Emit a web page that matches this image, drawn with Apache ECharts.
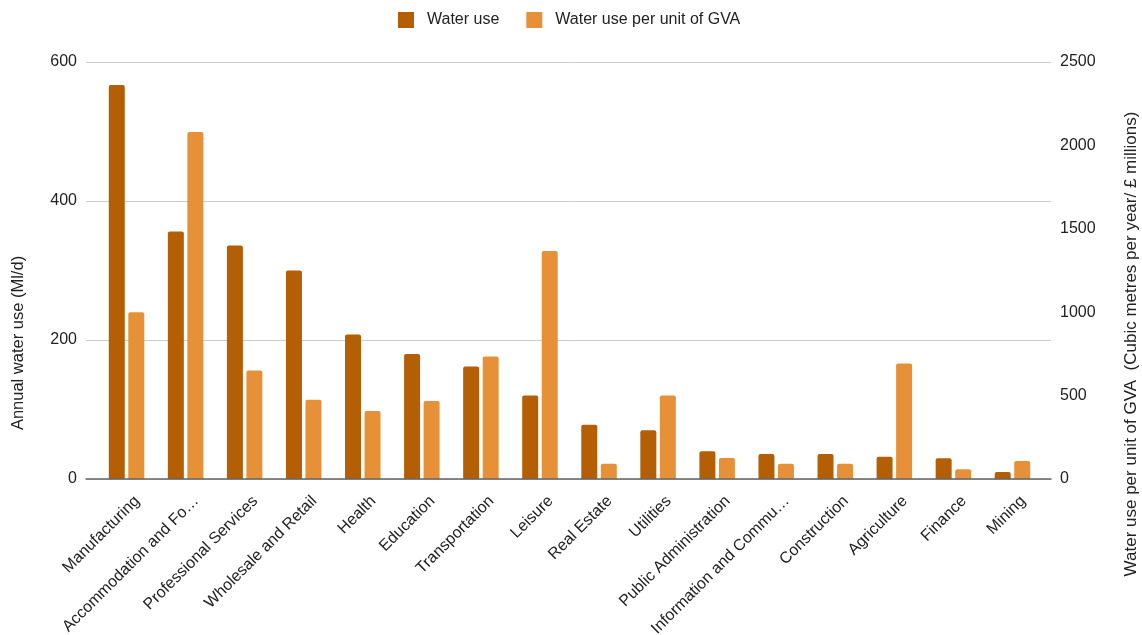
<!DOCTYPE html>
<html>
<head>
<meta charset="utf-8">
<script src="https://cdn.jsdelivr.net/npm/echarts@6/dist/echarts.min.js"></script>
<style>
  html, body { margin: 0; padding: 0; background: #fff; }
  #chart { width: 1142px; height: 635px; }
</style>
</head>
<body>
<div id="chart"></div>
<script>
// Sectors, in the order they are plotted
const categories = [
  'Manufacturing', 'Accommodation and Fo\u2026', 'Professional Services', 'Wholesale and Retail',
  'Health', 'Education', 'Transportation', 'Leisure', 'Real Estate', 'Utilities',
  'Public Administration', 'Information and Commu\u2026', 'Construction', 'Agriculture',
  'Finance', 'Mining'
];

// Annual water use (Ml/d) — left axis
const waterUse = [567, 356, 336, 300, 208, 180, 162, 120, 78, 70, 40, 36, 36, 32, 30, 10];

// Water use per unit of GVA (m³ per year / £ millions) — right axis
const waterPerGva = [1000, 2080, 650, 475, 407, 467, 734, 1367, 92, 500, 126, 92, 92, 692, 58, 108];

// Axis ranges
const leftAxis = { min: 0, max: 600, interval: 200 };
const rightAxis = { min: 0, max: 2500, interval: 500 };

const FONT = 'Arial, "Liberation Sans", sans-serif';
const TEXT = '#222';

const chart = echarts.init(document.getElementById('chart'), null, { renderer: 'canvas' });

chart.setOption({
  animation: false,
  textStyle: { fontFamily: FONT },
  legend: {
    top: 12,
    left: 398,
    padding: 0,
    itemWidth: 16,
    itemHeight: 16,
    itemGap: 27,
    icon: 'rect',
    itemStyle: { borderRadius: 2 },
    textStyle: { fontSize: 16, color: TEXT, fontFamily: FONT, padding: [0, 0, 0, 8] },
    data: ['Water use', 'Water use per unit of GVA']
  },
  grid: [
    // outer frame: gridlines and baseline
    { left: 86, right: 91, top: 62, bottom: 156, outerBoundsMode: 'none', containLabel: false },
    // inner band area holding the bars
    { left: 97, right: 100, top: 62, bottom: 156, outerBoundsMode: 'none', containLabel: false }
  ],
  xAxis: [
    {
      gridIndex: 0,
      type: 'category',
      data: categories,
      axisTick: { show: false },
      axisLabel: { show: false },
      axisLine: { show: true, lineStyle: { color: '#666', width: 1.5 } },
      z: 5
    },
    {
      gridIndex: 1,
      type: 'category',
      data: categories,
      axisTick: { show: false },
      axisLine: { show: false },
      axisLabel: {
        interval: 0,
        rotate: 45,
        align: 'right',
        verticalAlign: 'top',
        lineHeight: 30,
        margin: 9,
        fontSize: 16,
        color: TEXT,
        fontFamily: FONT
      }
    }
  ],
  yAxis: [
    {
      gridIndex: 0,
      type: 'value',
      min: leftAxis.min, max: leftAxis.max, interval: leftAxis.interval,
      axisLine: { show: false },
      axisTick: { show: false },
      splitLine: { show: true, lineStyle: { color: '#ccc', width: 1 } },
      axisLabel: { margin: 9, fontSize: 16, color: TEXT, fontFamily: FONT }
    },
    {
      gridIndex: 1,
      type: 'value',
      show: false,
      min: leftAxis.min, max: leftAxis.max, interval: leftAxis.interval,
      splitLine: { show: false }
    },
    {
      gridIndex: 1,
      type: 'value',
      position: 'right',
      min: rightAxis.min, max: rightAxis.max, interval: rightAxis.interval,
      axisLine: { show: false },
      axisTick: { show: false },
      splitLine: { show: false },
      axisLabel: {
        margin: 18, fontSize: 16, color: TEXT, fontFamily: FONT, align: 'left',
        formatter: (v) => String(v)
      }
    }
  ],
  graphic: [
    {
      type: 'text',
      x: 18, y: 343,
      rotation: Math.PI / 2,
      style: {
        text: 'Annual water use (Ml/d)',
        font: '16.5px ' + FONT,
        fill: TEXT,
        align: 'center',
        verticalAlign: 'middle'
      }
    },
    {
      type: 'text',
      x: 1131, y: 344,
      rotation: Math.PI / 2,
      style: {
        text: 'Water use per unit of GVA  (Cubic metres per year/ \u00a3 millions)',
        font: '17px ' + FONT,
        fill: TEXT,
        align: 'center',
        verticalAlign: 'middle'
      }
    }
  ],
  series: [
    {
      name: 'Water use',
      type: 'bar',
      xAxisIndex: 1,
      yAxisIndex: 1,
      data: waterUse,
      barWidth: 16,
      barGap: '22%',
      itemStyle: { color: '#B45F06', borderRadius: [2, 2, 0, 0] }
    },
    {
      name: 'Water use per unit of GVA',
      type: 'bar',
      xAxisIndex: 1,
      yAxisIndex: 2,
      data: waterPerGva,
      barWidth: 16,
      barGap: '22%',
      itemStyle: { color: '#E69138', borderRadius: [2, 2, 0, 0] }
    }
  ]
});
</script>
</body>
</html>
